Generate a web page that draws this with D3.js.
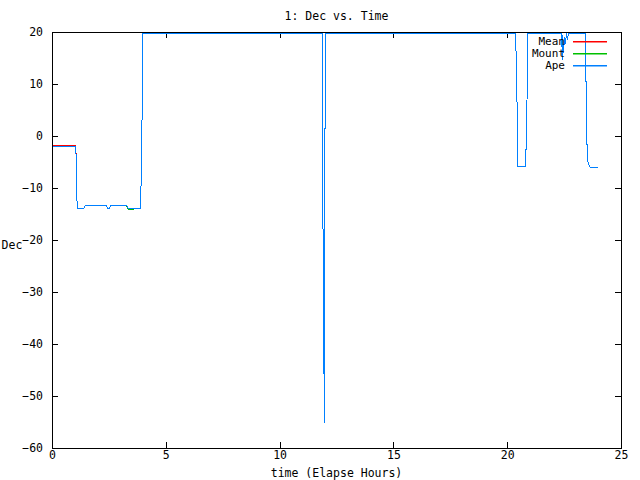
<!DOCTYPE html>
<html>
<head>
<meta charset="utf-8">
<script src="https://cdn.jsdelivr.net/npm/d3@7"></script>
<style>
  html, body { margin: 0; padding: 0; background: #fff; }
  svg text { font-family: "DejaVu Sans Mono", "Liberation Mono", monospace; font-size: 11.5px; fill: #000; }
  svg text.leg { font-size: 11px; }
</style>
</head>
<body>
<svg id="chart" width="640" height="480"></svg>
<script>
// ---- data ----
const title = "1: Dec vs. Time";
const xLabel = "time (Elapse Hours)";
const yLabel = "Dec";
const xTicks = [0, 5, 10, 15, 20, 25];
const yTicks = [20, 10, 0, -10, -20, -30, -40, -50, -60];
const seriesNames = ["Mean", "Mount", "Ape"];
const seriesColors = ["#ff0000", "#00c000", "#0080ff"];

const hours = [0, 1.03, 1.05, 1.07, 1.11, 1.38, 1.45, 2.36, 2.43, 2.49, 2.56, 3.25, 3.33, 3.88, 3.90, 3.94, 3.97,
  11.85, 11.875, 11.905, 11.95, 11.96, 11.975,
  20.36, 20.38, 20.42, 20.45, 20.80, 20.83, 20.87, 20.89,
  22.36, 22.39, 22.42, 22.46, 22.49, 22.53, 22.57, 22.62, 22.67,
  23.44, 23.46, 23.52, 23.58, 23.65, 23.95];
const mean = [-1.8, -1.8, -4.8, -10.9, -13.9, -13.9, -13.3, -13.3, -13.9, -13.9, -13.3, -13.3, -13.9, -13.9, -5.6, 11.4, 19.8,
  19.8, 1.3, -36, -55, -17.6, 19.8,
  19.8, 13.3, 0.5, -5.7, -5.7, 0.5, 13.3, 19.8,
  19.8, 14.8, 19.5, 16.2, 19.0, 17.8, 19.8, 18.6, 19.8,
  19.8, 1.7, -4.7, -5.7, -5.9, -6.0];
const mount = [-2.0, -2.0, -4.9, -10.9, -13.9, -13.9, -13.3, -13.3, -13.9, -13.9, -13.3, -13.3, -14.1, -13.9, -5.6, 11.4, 19.8,
  19.8, 1.3, -36, -55, -17.6, 19.8,
  19.8, 13.3, 0.5, -5.7, -5.7, 0.5, 13.3, 19.8,
  19.8, 14.8, 19.5, 16.2, 19.0, 17.8, 19.8, 18.6, 19.8,
  19.8, 1.7, -4.7, -5.7, -5.9, -6.0];
const ape = [-2.0, -2.0, -4.9, -10.9, -13.9, -13.9, -13.3, -13.3, -13.9, -13.9, -13.3, -13.3, -13.9, -13.9, -5.6, 11.4, 19.8,
  19.8, 1.3, -36, -55, -17.6, 19.8,
  19.8, 13.3, 0.5, -5.7, -5.7, 0.5, 13.3, 19.8,
  19.8, 14.8, 19.5, 16.2, 19.0, 17.8, 19.8, 18.6, 19.8,
  19.8, 1.7, -4.7, -5.7, -5.9, -6.0];
const seriesValues = [mean, mount, ape];

// ---- layout ----
const L = 52, R = 621, T = 32, B = 448;
const svg = d3.select("#chart");
const x = d3.scaleLinear().domain([0, 25]).range([L, R]);
const y = d3.scaleLinear().domain([-60, 20]).range([B, T]);

svg.append("rect").attr("width", 640).attr("height", 480).attr("fill", "#fff");

svg.append("defs").append("clipPath").attr("id", "clip")
  .append("rect").attr("x", L).attr("y", T).attr("width", R - L).attr("height", B - T);

// axes (gnuplot style: inward ticks, mirrored)
const tickLen = 6;
const gAx = svg.append("g").attr("shape-rendering", "crispEdges");
const bottomAxis = d3.axisBottom(x).tickValues(xTicks).tickSize(-tickLen).tickPadding(3).tickFormat(d3.format("d"));
const topAxis = d3.axisTop(x).tickValues(xTicks).tickSize(-tickLen).tickFormat("");
const leftAxis = d3.axisLeft(y).tickValues(yTicks).tickSize(-tickLen).tickPadding(9).tickFormat(d3.format("d"));
const rightAxis = d3.axisRight(y).tickValues(yTicks).tickSize(-tickLen).tickFormat("");

function styleAxis(g) {
  g.select(".domain").remove();
  g.selectAll(".tick line").attr("stroke", "#000");
  g.selectAll(".tick text").attr("fill", "#000");
  g.attr("font-family", null).attr("font-size", null);
}
gAx.append("g").attr("transform", `translate(0,${B})`).call(bottomAxis).call(styleAxis);
gAx.append("g").attr("transform", `translate(0,${T})`).call(topAxis).call(styleAxis);
gAx.append("g").attr("transform", `translate(${L},0)`).call(leftAxis).call(styleAxis);
gAx.append("g").attr("transform", `translate(${R},0)`).call(rightAxis).call(styleAxis);

// series lines (drawn in order; Ape on top)
const line = d3.line().x((d, i) => Math.round(x(hours[i])) + 0.5).y(d => Math.round(y(d)) + 0.5);
const gData = svg.append("g").attr("clip-path", "url(#clip)");
seriesValues.forEach((vals, k) => {
  gData.append("path").datum(vals)
    .attr("d", line)
    .attr("fill", "none")
    .attr("stroke", seriesColors[k])
    .attr("stroke-width", 1)
    .attr("shape-rendering", "crispEdges");
});

// border
svg.append("rect").attr("x", L + 0.5).attr("y", T + 0.5).attr("width", R - L).attr("height", B - T)
  .attr("fill", "none").attr("stroke", "#000").attr("stroke-width", 1).attr("shape-rendering", "crispEdges");

// legend
const legY0 = 41, legDy = 12;
seriesNames.forEach((name, k) => {
  const yy = legY0 + k * legDy;
  svg.append("text").attr("class", "leg").attr("x", 565).attr("y", yy).attr("dy", "0.35em").attr("text-anchor", "end").text(name);
  svg.append("rect").attr("x", 573).attr("y", yy).attr("width", 34).attr("height", 1.5)
    .attr("fill", seriesColors[k]);
});

// titles
svg.append("text").attr("x", (L + R) / 2).attr("y", 16).attr("dy", "0.35em").attr("text-anchor", "middle").text(title);
svg.append("text").attr("x", (L + R) / 2).attr("y", 473).attr("dy", "0.35em").attr("text-anchor", "middle").text(xLabel);
svg.append("text").attr("x", 12).attr("y", 245).attr("dy", "0.35em").attr("text-anchor", "middle").text(yLabel);
</script>
</body>
</html>
